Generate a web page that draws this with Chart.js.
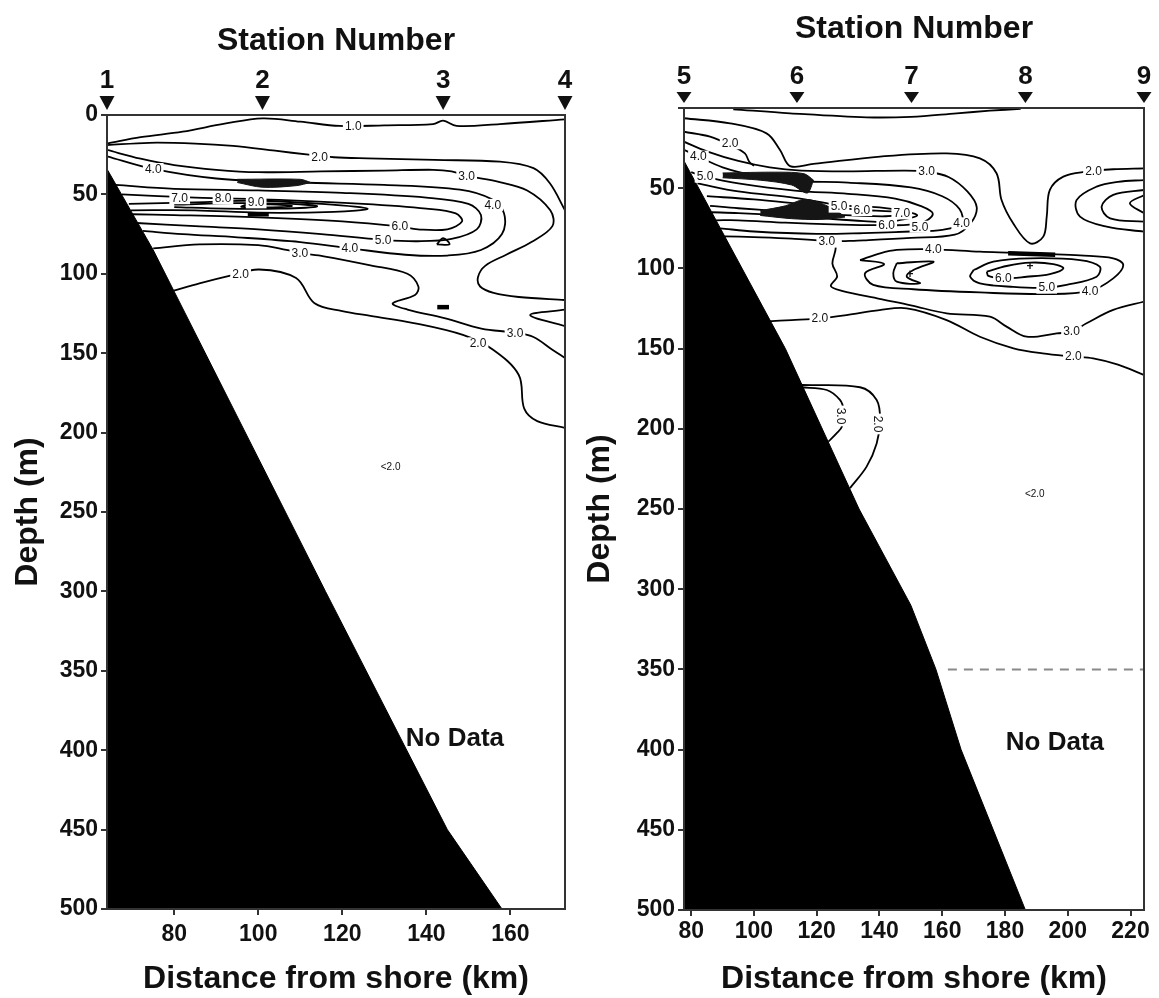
<!DOCTYPE html>
<html>
<head>
<meta charset="utf-8">
<script src="https://cdn.jsdelivr.net/npm/chart.js@4"></script>
<style>
  html, body { margin: 0; padding: 0; background: #fff; }
  #wrap { position: relative; width: 1159px; height: 998px; }
  canvas { position: absolute; top: 0; }
  #left { left: 0; }
  #right { left: 580px; }
</style>
</head>
<body>
<div id="wrap">
  <canvas id="left" width="580" height="998"></canvas>
  <canvas id="right" width="579" height="998"></canvas>
</div>
<script>
/********************************** data: stations 1-4 *****************************************/
const leftRange = [64, 173];
const leftStations = [64, 101, 144, 173];
const leftStationNames = ['1', '2', '3', '4'];
const leftSeabed = [[64, 34], [75, 85], [116, 300], [145, 450], [158, 500]];

const leftC10 = [[64.2,17.8],[72,14],[82,10.5],[92,5.5],[101,2.1],[110,4.2],[119.4,6.9],[130,6.5],[141.6,5.7],[144,3.6],[147.2,6.9],[157.5,5.7],[173,2.7]];
const leftC20Upper = [[64,19],[74,17.5],[85,18],[94,19.5],[104,22.5],[112,25],[118,26.6],[126,27.3],[142,28.3],[157.5,29.4],[165.5,33.5],[169.4,43],[173,60]];
const leftC30Upper = [[64,22],[72,27.5],[80,31.5],[90,34.5],[100,36],[115,35.5],[130,35],[141.6,34.5],[146,35.5],[150,38.5],[157,42],[164,47.5],[169.5,60],[170,70],[165,80],[159,88],[154,95],[152.3,102],[152.8,108],[156,112],[162,114.6],[173,116.5]];
const leftC40 = [[64,26],[75,34],[90,40],[110,42.5],[130,44],[148,47],[155.5,53],[158.5,62],[158,75],[153,85],[145,88.5],[135,88],[122,84],[110,80],[95,77],[82,75],[72.5,73]];
const leftC50 = [[66,44],[80,46.5],[100,47.5],[120,49],[140,52],[150,56],[153,63],[152,72],[146,78],[138,79.5],[129.7,78.6],[115,75],[100,72],[85,70],[71,68]];
const leftC60 = [[67.5,50],[85,52],[105,53.5],[125,56],[140,59],[147,62],[148.5,67],[145,72],[138,72],[133.7,70.2],[120,67],[100,64.5],[80,63],[70,62.5]];
const leftC70 = [[69.2,56],[85,55],[100,54],[115,56],[126,59],[118,61],[100,61.5],[85,60],[69.7,60]];
const leftC80 = [[80,56.5],[95,55.5],[108,56],[114,57.5],[105,59],[92,59],[80,58]];
const leftC90 = [[97,56.6],[103,56.3],[108,57.3],[102,58.2],[96,57.8],[97,56.6]];
const leftCTri = [[142.5,81.5],[144,77.5],[145.5,81.5],[142.5,81.5]];
const leftC30Lower = [[75,84],[86,81.5],[100,82],[106.7,85],[109.9,87],[115.6,89],[126.7,94.7],[135.5,100],[138.1,108],[137.3,113.3],[132,118.6],[135.5,122.5],[144.3,127.9],[153.1,134.5],[161.1,137.1],[165.5,139.8],[169.9,147.7],[173,153]];
const leftC30Wedge = [[173,122.6],[164.7,126],[173,133]];
const leftC20Lower = [[79.9,110.6],[86,106],[93.1,101.3],[100.2,97.3],[109,102.7],[113.4,118.6],[120,123.5],[126.7,126.5],[137,131],[148.7,138.5],[155.8,147.7],[162,163.7],[163.3,184.9],[166.4,192.8],[173,197]];

const leftPatchTop = [[95,40.5],[110,40.5],[112.5,42.5]];
const leftPatchBottom = [[95,42.5],[101,45.5],[109,44.5],[112.5,42.5]];
const leftBlobs = [[[97.5,62.5],[102.5,62.5]], [[142.6,121],[145.4,121]]];

const leftLabels = [
  [122.6,7,'1.0'], [114.6,26.6,'2.0'], [149.6,38.5,'3.0'], [75,34,'4.0'], [155.8,56.6,'4.0'],
  [81.3,52.4,'7.0'], [91.6,52.4,'8.0'], [99.5,55,'9.0'],
  [133.7,70.2,'6.0'], [129.7,78.6,'5.0'], [121.8,84,'4.0'], [109.9,87,'3.0'],
  [95.8,100,'2.0'], [161.1,137.1,'3.0'], [152.3,143.8,'2.0']
];
const leftNotes = [[131.5,222,'<2.0'], [146.8,393,'No Data']];

/********************************** data: stations 5-9 *****************************************/
const rightRange = [77.7, 224.3];
const rightStations = [77.7, 113.7, 150.2, 186.5, 224.3];
const rightStationNames = ['5', '6', '7', '8', '9'];
const rightSeabed = [[77.7,33],[110,150],[133.5,250],[150,310],[158,350],[166,400],[186.5,500]];
const rightNoData = [[161.8,350],[224.3,350]];

const rightC10 = [[93.4,0.8],[111.5,3.3],[135.9,5.8],[150,5.5],[164.6,3.3],[175.2,1.7],[185,0.5]];
const rightC20Short = [[77.7,14.8],[86,17.9],[92.4,23.1],[97.1,28.3],[98.5,33.5],[100,36]];
const rightC20U = [[77.7,6.4],[92.4,9.6],[104,15.8],[108.3,26.2],[111.5,36.2],[118.9,34.9],[140.2,30.3],[161.4,28.3],[172,31.4],[177.3,40.7],[178.9,57.4],[182.6,71.9],[188,84.4],[192.2,80.2],[193.3,67.7],[194.3,51.1],[198.6,42.8],[206,39.7],[214.5,38.2],[224.3,37.6]];
const rightC30Upper = [[77.7,21],[85,27],[95,33],[105,37],[115,39],[130,39.5],[148,39],[155,39.7],[162,43],[168,52],[171,62],[169,72],[164,79],[150,81],[135,82.5],[128,83]];
const rightC40 = [[77.7,26],[82.3,30.3],[90,37],[100,42],[113,45.5],[130,46.5],[150,49.5],[160,55],[165.5,63],[166.2,71.9],[160,76],[150,77],[135,78],[120,78.5],[100,77],[89.3,75]];
const rightC50 = [[80,40],[84.4,42.8],[95,47],[113,51.5],[130,53.5],[145,56.5],[153,61],[157,66],[152.9,72],[140,73],[125,72.5],[110,71.5],[95,70],[87.8,70]];
const rightC60 = [[82,47],[95,52],[113,56],[127.1,60.5],[140,62],[148,64.5],[152,67],[146,70],[142.3,71],[135,70.5],[120,68.5],[105,66.5],[95,65.5],[86.5,65]];
const rightC70 = [[85,55],[100,57],[113,59.5],[125,62],[134.4,63.6],[144,64.5],[149,66],[142,67.5],[125,66.5],[110,64.5],[95,62.5],[86,61]];
const rightC30Lower = [[90.7,80],[100,80.5],[112,81.5],[123,83.3],[126,86],[125,97],[126.5,105],[124.5,111],[128,114],[140,119],[150,123],[161.4,128],[175.2,130.1],[180.5,136.3],[186.9,142.6],[196.5,140.5],[201.2,139.4],[206,134.2],[214.5,125.9],[224.4,120.7]];
const rightC40Lower = [[133.8,94.8],[140.2,90.6],[145.5,88.5],[157.2,88.1],[172,89.6],[182.6,90.2],[193.3,91],[203.9,91.9],[214.5,93.7],[217.7,97.9],[214.5,106.2],[207.1,114],[193.3,116],[172,115],[150.8,113],[138,110.3],[135.4,103],[141.5,97.3],[133.8,94.8]];
const rightC50Lower = [[170,101],[176.3,95.8],[188,93.7],[203.9,94.8],[210.2,98.9],[209.2,105.2],[199.6,110.3],[193.3,112],[182.6,111.5],[172,109.3],[168.9,105.2],[170,101]];
const rightC60Lower = [[174.2,102],[180.5,98.5],[188,96.4],[195.4,97.3],[198.6,100],[194.3,103.5],[186.9,105.2],[179.5,106.2],[174.7,104.7],[174.2,102]];
const rightC50Small = [[145.5,96.8],[157.2,95.8],[150.8,101],[148.7,105.2],[152.9,109.3],[145.5,108.3],[144.4,103.1],[145.5,96.8]];
const rightEdge30 = [[224.4,44.9],[216,46],[209.2,49],[202.8,57.4],[203.9,67.7],[212.4,74],[224.4,77.1]];
const rightEdge40 = [[224.4,51.1],[214.5,54.2],[210.8,61.5],[213.5,68.8],[224.4,70.9]];
const rightEdge50 = [[224.4,54.2],[219.8,59.4],[224.4,65.7]];
const rightC20Lower = [[104.5,133],[112,132.2],[121,131.1],[129.5,129.1],[140,126],[148.7,124.9],[161.4,132.2],[172,142.6],[182.7,149.8],[192,153],[201.8,155],[208.1,156.1],[216,160],[224.4,166.5]];
const rightC20Deep = [[115.2,172.7],[133.8,174.1],[139.1,182],[140.2,194.5],[139.1,209.1],[135.9,223.6],[130.6,237]];
const rightC30Deep = [[114.9,174.1],[123.2,175.8],[127.4,182],[128.5,188.3],[128,198.7],[126.3,202.8],[123.7,208]];

const rightPatchTopA = [[90,40.5],[108,40],[116,41],[119,45]];
const rightPatchBottomA = [[90,43.5],[102,45],[112,48],[117,53],[119,45]];
const rightPatchTopB = [[102,64],[110,61],[116,57],[121,59],[127,65],[129,68]];
const rightPatchBottomB = [[102,67],[112,69],[121,69.5],[129,68]];
const rightBlobs = [[[181,90.5],[196,91.5]]];

const rightLabels = [
  [92.4,22,'2.0'], [82.3,30.3,'4.0'], [84.4,42.8,'5.0'], [155,39.7,'3.0'], [208.2,39.5,'2.0'],
  [127.1,61.5,'5.0'], [134.4,63.6,'6.0'], [147.1,65.7,'7.0'], [142.3,73,'6.0'], [152.9,74,'5.0'], [166.2,71.9,'4.0'],
  [123.2,83.3,'3.0'], [157.2,88.1,'4.0'], [179.5,106.2,'6.0'], [193.3,112,'5.0'], [207.1,114,'4.0'],
  [121,131.1,'2.0'], [201.2,139.4,'3.0'], [201.8,155,'2.0'],
  [127.8,192,'3.0',90], [139.5,197,'2.0',90]
];
const rightNotes = [[189.5,241,'<2.0'], [195.9,396,'No Data'], [188,99,'+'], [149.7,104.1,'+']];

/********************************** drawing *****************************************/
const FONT = "'Liberation Sans', Arial, sans-serif";

function line(data, width) {
  return { data: data, borderColor: '#000', borderWidth: width || 1.8, pointRadius: 0, tension: 0.35, fill: false };
}

function decor(P) {
  return {
    id: 'decor',
    afterDatasetsDraw(chart) {
      const ctx = chart.ctx, x = chart.scales.x, y = chart.scales.y;
      ctx.save();
      ctx.textAlign = 'center';
      ctx.textBaseline = 'middle';
      ctx.font = '12px ' + FONT;
      P.labels.forEach(function (l) {
        ctx.save();
        ctx.translate(x.getPixelForValue(l[0]), y.getPixelForValue(l[1]));
        if (l[3]) ctx.rotate(l[3] * Math.PI / 180);
        const w = ctx.measureText(l[2]).width + 4;
        ctx.fillStyle = '#fff';
        ctx.fillRect(-w / 2, -6, w, 12);
        ctx.fillStyle = '#111';
        ctx.fillText(l[2], 0, 0.5);
        ctx.restore();
      });
      P.notes.forEach(function (n) {
        ctx.font = n[2] === 'No Data' ? 'bold 26px ' + FONT : (n[2] === '+' ? 'bold 12px ' + FONT : '10px ' + FONT);
        ctx.fillStyle = '#111';
        ctx.fillText(n[2], x.getPixelForValue(n[0]), y.getPixelForValue(n[1]));
      });
      ctx.restore();
    },
    afterDraw(chart) {
      const ctx = chart.ctx, a = chart.chartArea, x = chart.scales.x;
      ctx.save();
      ctx.strokeStyle = '#333';
      ctx.lineWidth = 2;
      ctx.strokeRect(a.left, a.top, a.right - a.left, a.bottom - a.top);
      ctx.fillStyle = '#111';
      ctx.textAlign = 'center';
      ctx.textBaseline = 'middle';
      P.stations.forEach(function (km, i) {
        const px = x.getPixelForValue(km);
        ctx.beginPath();
        ctx.moveTo(px - 7.5, a.top - P.triTop);
        ctx.lineTo(px + 7.5, a.top - P.triTop);
        ctx.lineTo(px, a.top - 5);
        ctx.closePath();
        ctx.fill();
        ctx.font = 'bold 26px ' + FONT;
        ctx.fillText(P.names[i], px, a.top - P.numOff);
      });
      ctx.font = 'bold 32px ' + FONT;
      ctx.fillText('Station Number', (a.left + a.right) / 2, a.top - P.titleOff);
      ctx.restore();
    }
  };
}

function buildPanel(id, P) {
  const datasets = [];
  datasets.push({ data: P.seabed, fill: { value: 500 }, backgroundColor: '#000', borderColor: '#000', borderWidth: 1, pointRadius: 0, tension: 0 });
  P.patches.forEach(function (p) {
    datasets.push({ data: p[0], fill: '+1', backgroundColor: '#151515', borderColor: '#151515', borderWidth: 1, pointRadius: 0, tension: 0.3 });
    datasets.push({ data: p[1], fill: false, borderColor: '#151515', borderWidth: 1, pointRadius: 0, tension: 0.3 });
  });
  P.blobs.forEach(function (b) { datasets.push(line(b, 4.5)); });
  P.contours.forEach(function (c) { datasets.push(line(c)); });
  if (P.dashed) {
    datasets.push({ data: P.dashed, borderColor: '#8a8a8a', borderDash: [9, 7], borderWidth: 2, pointRadius: 0, fill: false });
  }
  const tickFont = { family: FONT, size: 23, weight: 'bold' };
  const titleFont = { family: FONT, size: 32, weight: 'bold' };
  new Chart(document.getElementById(id), {
    type: 'line',
    data: { datasets: datasets },
    options: {
      responsive: false,
      animation: false,
      devicePixelRatio: 1,
      events: [],
      layout: { padding: { left: 0, right: P.padRight, top: P.padTop, bottom: 0 } },
      plugins: { legend: { display: false }, tooltip: { enabled: false } },
      scales: {
        x: {
          type: 'linear', min: P.range[0], max: P.range[1],
          ticks: { stepSize: 20, includeBounds: false, autoSkip: false, maxRotation: 0, font: tickFont, color: '#111', padding: P.xTickPad },
          grid: { drawOnChartArea: false, drawTicks: true, tickLength: 6, color: '#333', lineWidth: 2 },
          border: { display: false },
          title: { display: true, text: 'Distance from shore (km)', font: titleFont, color: '#111', padding: { top: 0, bottom: 0 } },
          afterFit: function (s) { s.height = P.xAxisH; }
        },
        y: {
          type: 'linear', reverse: true, min: 0, max: 500,
          ticks: { stepSize: 50, autoSkip: false, font: tickFont, color: '#111', padding: 3,
                   callback: function (v) { return (v === 0 && !P.showZero) ? '' : v; } },
          grid: { drawOnChartArea: false, drawTicks: true, tickLength: 6, color: '#333', lineWidth: 2 },
          border: { display: false },
          title: { display: true, text: 'Depth (m)', font: titleFont, color: '#111', padding: { top: P.yTitlePad, bottom: 0 } },
          afterFit: function (s) { s.width = P.yAxisW; }
        }
      }
    },
    plugins: [decor(P)]
  });
}

buildPanel('left', {
  range: leftRange, stations: leftStations, names: leftStationNames, seabed: leftSeabed,
  contours: [leftC10, leftC20Upper, leftC30Upper, leftC40, leftC50, leftC60, leftC70, leftC80, leftC90, leftCTri,
             leftC30Lower, leftC30Wedge, leftC20Lower],
  patches: [[leftPatchTop, leftPatchBottom]], blobs: leftBlobs,
  labels: leftLabels, notes: leftNotes, showZero: true,
  padTop: 115, padRight: 15, yAxisW: 107, xAxisH: 89, xTickPad: 6, yTitlePad: 9,
  triTop: 19, numOff: 34, titleOff: 74
});

buildPanel('right', {
  range: rightRange, stations: rightStations, names: rightStationNames, seabed: rightSeabed,
  contours: [rightC10, rightC20Short, rightC20U, rightC30Upper, rightC40, rightC50, rightC60, rightC70, rightC30Lower,
             rightC40Lower, rightC50Lower, rightC60Lower, rightC50Small, rightEdge30, rightEdge40, rightEdge50,
             rightC20Lower, rightC20Deep, rightC30Deep],
  patches: [[rightPatchTopA, rightPatchBottomA], [rightPatchTopB, rightPatchBottomB]], blobs: rightBlobs,
  dashed: rightNoData, labels: rightLabels, notes: rightNotes, showZero: false,
  padTop: 108, padRight: 15, yAxisW: 104, xAxisH: 88, xTickPad: 2, yTitlePad: 1,
  triTop: 16, numOff: 31, titleOff: 79
});
</script>
</body>
</html>
